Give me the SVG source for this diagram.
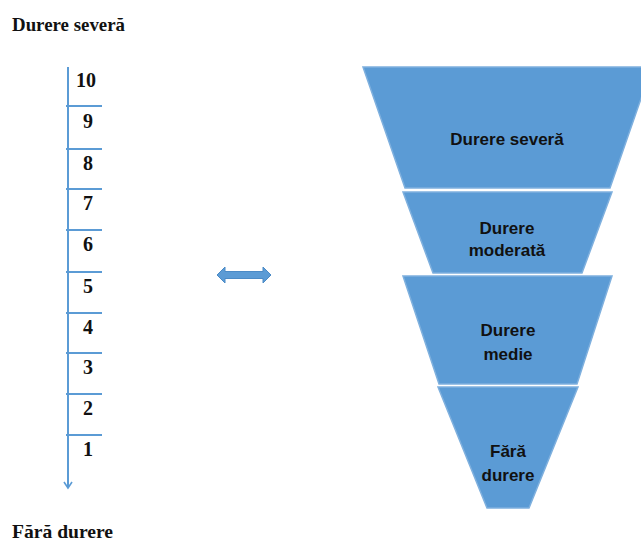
<svg xmlns="http://www.w3.org/2000/svg" width="641" height="542" viewBox="0 0 641 542">
<style>
.lbl{font-family:"Liberation Serif","Times New Roman",serif;font-weight:bold;fill:#111;}
.num{font-family:"Liberation Serif","Times New Roman",serif;font-weight:bold;font-size:20px;fill:#111;text-anchor:middle;}
.tick{stroke:#5B9BD5;stroke-width:2;fill:none;}
.seg{fill:#5B9BD5;stroke:#7FB0DE;stroke-width:1.5;}
.ft{font-family:"Liberation Sans",Arial,sans-serif;font-weight:bold;font-size:17px;fill:#111;text-anchor:middle;}
</style>
<defs>
<marker id="ah" markerWidth="10" markerHeight="10" refX="8" refY="5" orient="auto" markerUnits="userSpaceOnUse" viewBox="0 0 10 10">
<path d="M2,1 L8,5 L2,9" fill="none" stroke="#5B9BD5" stroke-width="1.6"/>
</marker>
</defs>
<rect width="641" height="542" fill="#fff"/>
<text class="lbl" x="12" y="31" font-size="19" textLength="113" lengthAdjust="spacingAndGlyphs">Durere severă</text>
<text class="lbl" x="12" y="538" font-size="19" textLength="101" lengthAdjust="spacingAndGlyphs">Fără durere</text>
<g id="connectors">
<line class="tick" x1="68" y1="67" x2="68" y2="488" marker-end="url(#ah)"/>
<path d="M217,275 L225,267 L225,271.5 L263,271.5 L263,267 L271,275 L263,283 L263,278.5 L225,278.5 L225,283 Z" fill="#5B9BD5" stroke="#4A8AC6" stroke-width="1"/>
</g>
<g id="scale">
<line class="tick" x1="66" y1="106" x2="102" y2="106"/>
<line class="tick" x1="66" y1="149" x2="102" y2="149"/>
<line class="tick" x1="66" y1="189" x2="102" y2="189"/>
<line class="tick" x1="66" y1="230" x2="102" y2="230"/>
<line class="tick" x1="66" y1="272" x2="102" y2="272"/>
<line class="tick" x1="66" y1="313" x2="102" y2="313"/>
<line class="tick" x1="66" y1="353" x2="102" y2="353"/>
<line class="tick" x1="66" y1="394" x2="102" y2="394"/>
<line class="tick" x1="66" y1="435" x2="102" y2="435"/>
<text class="num" x="86" y="87">10</text>
<text class="num" x="88" y="128">9</text>
<text class="num" x="88" y="170">8</text>
<text class="num" x="88" y="210">7</text>
<text class="num" x="88" y="251">6</text>
<text class="num" x="88" y="293">5</text>
<text class="num" x="88" y="334">4</text>
<text class="num" x="88" y="374">3</text>
<text class="num" x="88" y="415">2</text>
<text class="num" x="88" y="456">1</text>
</g>
<g id="seg1">
<polygon class="seg" points="363,67 652,67 610,188 405,188"/>
<text class="ft" x="507" y="145">Durere severă</text>
</g>
<g id="seg2">
<polygon class="seg" points="403,192 612,192 582,273 433,273"/>
<text class="ft" x="507" y="234">Durere</text>
<text class="ft" x="507" y="256">moderată</text>
</g>
<g id="seg3">
<polygon class="seg" points="403,276 612,276 577,384 439,384"/>
<text class="ft" x="508" y="336">Durere</text>
<text class="ft" x="508" y="360">medie</text>
</g>
<g id="seg4">
<polygon class="seg" points="438,387 578,387 529,508 487,508"/>
<text class="ft" x="508" y="457">Fără</text>
<text class="ft" x="508" y="481">durere</text>
</g>
</svg>
